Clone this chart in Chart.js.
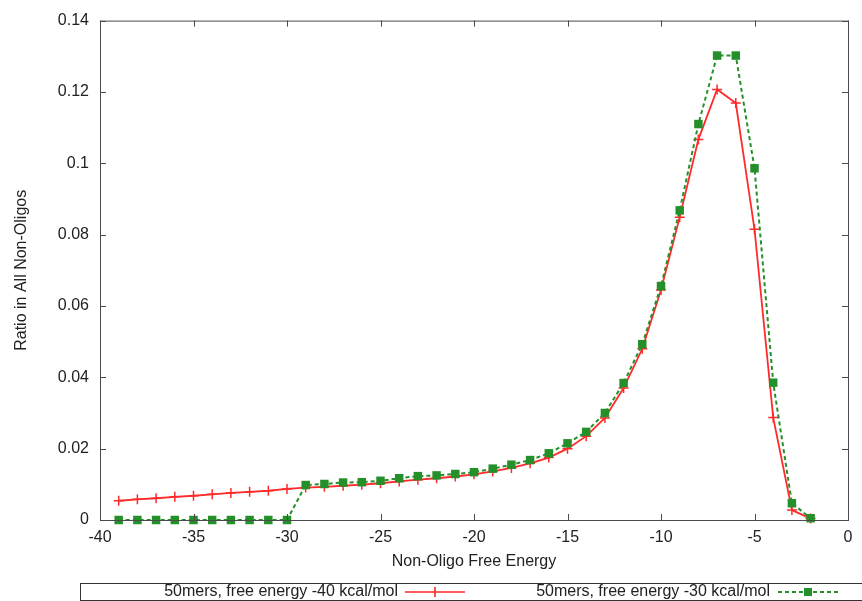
<!DOCTYPE html>
<html>
<head>
<meta charset="utf-8">
<script src="https://cdn.jsdelivr.net/npm/chart.js@4.4.1/dist/chart.umd.min.js"></script>
<style>
  html, body { margin: 0; padding: 0; background: #fff; }
  #wrap { width: 862px; height: 601px; }
</style>
</head>
<body>
<div id="wrap"><canvas id="energyChart" width="862" height="601"></canvas></div>
<script>
// free energy bins (kcal/mol)
const energias = [-39, -38, -37, -36, -35, -34, -33, -32, -31, -30, -29, -28, -27, -26, -25, -24, -23, -22, -21, -20,
  -19, -18, -17, -16, -15, -14, -13, -12, -11, -10, -9, -8, -7, -6, -5, -4, -3, -2];

// 50mers, free energy -40 kcal/mol
const ratio40 = [0.0054, 0.0058, 0.0061, 0.0065, 0.0068, 0.0072, 0.0076, 0.0079, 0.0082, 0.0087,
  0.0091, 0.0093, 0.0096, 0.0099, 0.0103, 0.0108, 0.0113, 0.0117, 0.0122, 0.0128,
  0.0136, 0.0146, 0.0159, 0.0175, 0.0200, 0.0235, 0.0286, 0.0370, 0.0480, 0.0645,
  0.0849, 0.1067, 0.1207, 0.1169, 0.0815, 0.0287, 0.0028, 0.0004];

// 50mers, free energy -30 kcal/mol
const ratio30 = [0, 0, 0, 0, 0, 0, 0, 0, 0, 0,
  0.0098, 0.0101, 0.0105, 0.0106, 0.0110, 0.0117, 0.0123, 0.0125, 0.0129, 0.0134,
  0.0144, 0.0155, 0.0168, 0.0187, 0.0215, 0.0247, 0.0300, 0.0384, 0.0493, 0.0656,
  0.0868, 0.1110, 0.1302, 0.1302, 0.0986, 0.0385, 0.0047, 0.0005];

const etiquetas = ['50mers, free energy -40 kcal/mol', '50mers, free energy -30 kcal/mol'];
const rojo = '#ff2a2a';
const verde = '#25902a';
const fuente = '"Liberation Sans", Arial, sans-serif';
const tam = 16;

function puntos(valores) {
  return energias.map((e, i) => ({ x: e, y: valores[i] }));
}

// gnuplot-like frame with inward ticks, plus the boxed key underneath
const marco = {
  id: 'marco',
  afterDraw(chart) {
    const { ctx, chartArea: a, scales } = chart;
    ctx.save();
    ctx.strokeStyle = '#4a4a4a';
    ctx.lineWidth = 1;
    ctx.strokeRect(a.left + 0.5, a.top + 0.5, a.right - a.left, a.bottom - a.top);
    ctx.beginPath();
    scales.x.ticks.forEach(t => {
      const px = Math.round(scales.x.getPixelForValue(t.value)) + 0.5;
      ctx.moveTo(px, a.bottom); ctx.lineTo(px, a.bottom - 6);
      ctx.moveTo(px, a.top); ctx.lineTo(px, a.top + 6);
    });
    scales.y.ticks.forEach(t => {
      const py = Math.round(scales.y.getPixelForValue(t.value)) + 0.5;
      ctx.moveTo(a.left, py); ctx.lineTo(a.left + 6, py);
      ctx.moveTo(a.right, py); ctx.lineTo(a.right - 6, py);
    });
    ctx.stroke();

    // key
    const top = 583, mid = 592;
    ctx.strokeStyle = '#333';
    ctx.strokeRect(80.5, top + 0.5, 800, 17);
    ctx.font = tam + 'px ' + fuente;
    ctx.fillStyle = '#222';
    ctx.textAlign = 'right';
    ctx.textBaseline = 'middle';
    ctx.fillText(etiquetas[0], 398, mid);
    ctx.fillText(etiquetas[1], 770, mid);

    ctx.strokeStyle = rojo;
    ctx.lineWidth = 1.6;
    ctx.beginPath();
    ctx.moveTo(405, mid); ctx.lineTo(465, mid);
    ctx.moveTo(435, mid - 5); ctx.lineTo(435, mid + 5);
    ctx.stroke();

    ctx.strokeStyle = verde;
    ctx.lineWidth = 2;
    ctx.setLineDash([4, 3]);
    ctx.beginPath();
    ctx.moveTo(778, mid); ctx.lineTo(838, mid);
    ctx.stroke();
    ctx.setLineDash([]);
    ctx.fillStyle = verde;
    ctx.fillRect(804, mid - 4, 8, 8);
    ctx.restore();
  }
};

const data = {
  datasets: [{
    label: etiquetas[0],
    data: puntos(ratio40),
    borderColor: rojo,
    backgroundColor: rojo,
    borderWidth: 1.8,
    pointStyle: 'cross',
    pointRadius: 5,
    pointBorderWidth: 1.5,
    pointHoverRadius: 5,
    tension: 0,
    clip: false,
    order: 2
  }, {
    label: etiquetas[1],
    data: puntos(ratio30),
    borderColor: verde,
    backgroundColor: verde,
    borderWidth: 2,
    borderDash: [4, 3],
    pointStyle: 'rect',
    pointRadius: 6,
    pointBorderWidth: 0,
    pointHoverRadius: 6,
    tension: 0,
    clip: false,
    order: 1
  }]
};

const config = {
  type: 'line',
  data: data,
  options: {
    responsive: false,
    animation: false,
    layout: { padding: { top: 20, right: 14, left: 8, bottom: 26 } },
    plugins: { legend: { display: false }, tooltip: { enabled: false } },
    scales: {
      x: {
        type: 'linear',
        min: -40,
        max: 0,
        grid: { display: false, drawTicks: false },
        border: { display: false },
        ticks: { stepSize: 5, padding: 8, color: '#222', font: { family: fuente, size: tam } },
        title: { display: true, text: 'Non-Oligo Free Energy', color: '#222', font: { family: fuente, size: tam } },
        afterFit(scale) { scale.height = 55; }
      },
      y: {
        min: 0,
        max: 0.14,
        grid: { display: false, drawTicks: false },
        border: { display: false },
        ticks: {
          stepSize: 0.02, padding: 11, color: '#222', font: { family: fuente, size: tam },
          callback: v => String(+v.toFixed(2))
        },
        title: { display: true, text: 'Ratio in All Non-Oligos', color: '#222', font: { family: fuente, size: tam } },
        afterFit(scale) { scale.width = 92; }
      }
    }
  },
  plugins: [marco]
};

new Chart(document.getElementById('energyChart'), config);
</script>
</body>
</html>
